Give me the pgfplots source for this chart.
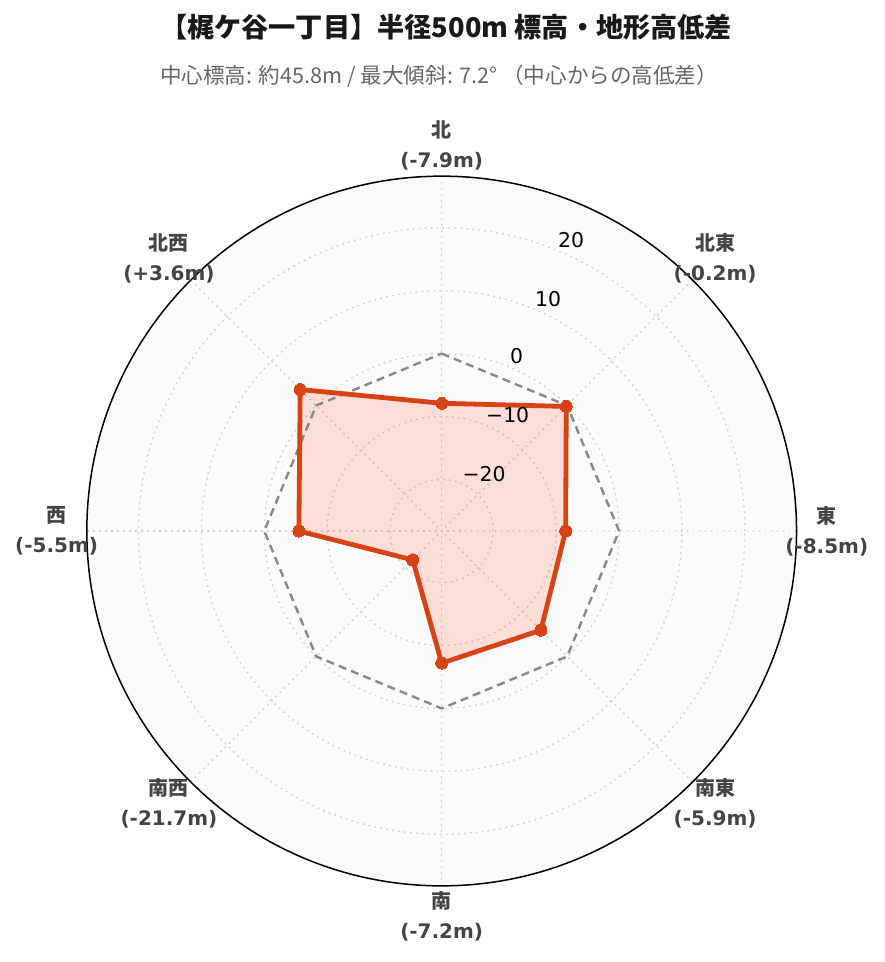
\documentclass[border=0pt]{standalone}
\usepackage{fontspec}
\usepackage{pgfplots}
\usepackage{pgfplotstable}
\pgfplotsset{compat=1.18}
\setmainfont{DejaVu Sans}
\newfontfamily\cjk{Noto Sans CJK JP}
\definecolor{lineC}{HTML}{D84315}
\definecolor{fillC}{HTML}{FF4010}
\definecolor{bgC}{HTML}{FAFAFA}
\definecolor{gridC}{HTML}{D2D2D2}
\definecolor{labC}{HTML}{444444}
\definecolor{subC}{HTML}{666666}
\definecolor{zeroC}{HTML}{888888}

% compass angle (deg, clockwise from north), elevation difference (m)
\pgfplotstableread{
ang v
0 -7.9
45 -0.2
90 -8.5
135 -5.9
180 -7.2
225 -21.7
270 -5.5
315 3.6
360 -7.9
}\elev
\pgfplotstableread{
ang v
0 0
45 0
90 0
135 0
180 0
225 0
270 0
315 0
360 0
}\zero

\begin{document}
\begin{tikzpicture}
\begin{axis}[x=3.147pt,y=3.147pt,
  xmin=-70.2,xmax=70.4,ymin=-68.5,ymax=84.4,
  hide axis, clip=false]
\path (axis cs:-70.2,-68.5) rectangle (axis cs:70.4,84.4);
\fill[bgC] (axis cs:0,0) circle[radius=56.4*3.147pt];
% grid circles (-20,-10,0,10,20)
\draw[gridC, line width=0.7pt, dash pattern=on 0.9pt off 2.1pt] (axis cs:0,0) circle[radius=8.2*3.147pt];
\draw[gridC, line width=0.7pt, dash pattern=on 0.9pt off 2.1pt] (axis cs:0,0) circle[radius=18.2*3.147pt];
\draw[gridC, line width=0.7pt, dash pattern=on 0.9pt off 2.1pt] (axis cs:0,0) circle[radius=28.2*3.147pt];
\draw[gridC, line width=0.7pt, dash pattern=on 0.9pt off 2.1pt] (axis cs:0,0) circle[radius=38.2*3.147pt];
\draw[gridC, line width=0.7pt, dash pattern=on 0.9pt off 2.1pt] (axis cs:0,0) circle[radius=48.2*3.147pt];
% radial grid lines
\draw[gridC, line width=0.7pt, dash pattern=on 0.9pt off 2.1pt] (axis cs:0,-56.4) -- (axis cs:0,56.4);
\draw[gridC, line width=0.7pt, dash pattern=on 0.9pt off 2.1pt] (axis cs:-56.4,0) -- (axis cs:56.4,0);
\draw[gridC, line width=0.7pt, dash pattern=on 0.9pt off 2.1pt] (axis cs:-39.88,-39.88) -- (axis cs:39.88,39.88);
\draw[gridC, line width=0.7pt, dash pattern=on 0.9pt off 2.1pt] (axis cs:-39.88,39.88) -- (axis cs:39.88,-39.88);

\addplot[draw=none, fill=fillC, fill opacity=0.15]
  table[x expr={(\thisrow{v}+28.2)*sin(\thisrow{ang})}, y expr={(\thisrow{v}+28.2)*cos(\thisrow{ang})}] {\elev};
\addplot[zeroC, line width=1.2pt, dash pattern=on 4pt off 2.6pt]
  table[x expr={(\thisrow{v}+28.2)*sin(\thisrow{ang})}, y expr={(\thisrow{v}+28.2)*cos(\thisrow{ang})}] {\zero};
\addplot[lineC, line width=2.4pt, line join=round, mark=*, mark size=3pt, mark options={fill=lineC, draw=lineC, line width=0pt}]
  table[x expr={(\thisrow{v}+28.2)*sin(\thisrow{ang})}, y expr={(\thisrow{v}+28.2)*cos(\thisrow{ang})}] {\elev};

\draw[black, line width=0.75pt] (axis cs:0,0) circle[radius=56.4*3.147pt];

% radial tick labels
\node[font=\fontsize{10.2}{12}\selectfont] at (axis cs:20.58,46.23) {20};
\node[font=\fontsize{10.2}{12}\selectfont] at (axis cs:16.92,36.86) {10};
\node[font=\fontsize{10.2}{12}\selectfont] at (axis cs:11.92,27.73) {0};
\node[font=\fontsize{10.2}{12}\selectfont] at (axis cs:10.49,18.35) {−10};
\node[font=\fontsize{10.2}{12}\selectfont] at (axis cs:6.75,9.06) {−20};

% direction labels
\node[align=center, text=labC, font=\bfseries\fontsize{10}{15}\selectfont] at (axis cs:0,61.3) {{\cjk 北}\\(-7.9m)};
\node[align=center, text=labC, font=\bfseries\fontsize{10}{15}\selectfont] at (axis cs:43.45,43.35) {{\cjk 北東}\\(-0.2m)};
\node[align=center, text=labC, font=\bfseries\fontsize{10}{15}\selectfont] at (axis cs:61.2,0) {{\cjk 東}\\(-8.5m)};
\node[align=center, text=labC, font=\bfseries\fontsize{10}{15}\selectfont] at (axis cs:43.45,-43.35) {{\cjk 南東}\\(-5.9m)};
\node[align=center, text=labC, font=\bfseries\fontsize{10}{15}\selectfont] at (axis cs:0,-61.3) {{\cjk 南}\\(-7.2m)};
\node[align=center, text=labC, font=\bfseries\fontsize{10}{15}\selectfont] at (axis cs:-43.35,-43.35) {{\cjk 南西}\\(-21.7m)};
\node[align=center, text=labC, font=\bfseries\fontsize{10}{15}\selectfont] at (axis cs:-61.2,0) {{\cjk 西}\\(-5.5m)};
\node[align=center, text=labC, font=\bfseries\fontsize{10}{15}\selectfont] at (axis cs:-43.35,43.35) {{\cjk 北西}\\(+3.6m)};

% title and subtitle
\node[font=\cjk\bfseries\fontsize{13.6}{16}\selectfont, text=black!90] at (axis cs:0.7,80.1) {【梶ケ谷一丁目】半径500m 標高・地形高低差};
\node[font=\cjk\fontsize{10.8}{12}\selectfont, text=subC] at (axis cs:-0.4,72.3) {中心標高: 約45.8m / 最大傾斜: 7.2° （中心からの高低差）};
\end{axis}
\end{tikzpicture}
\end{document}
